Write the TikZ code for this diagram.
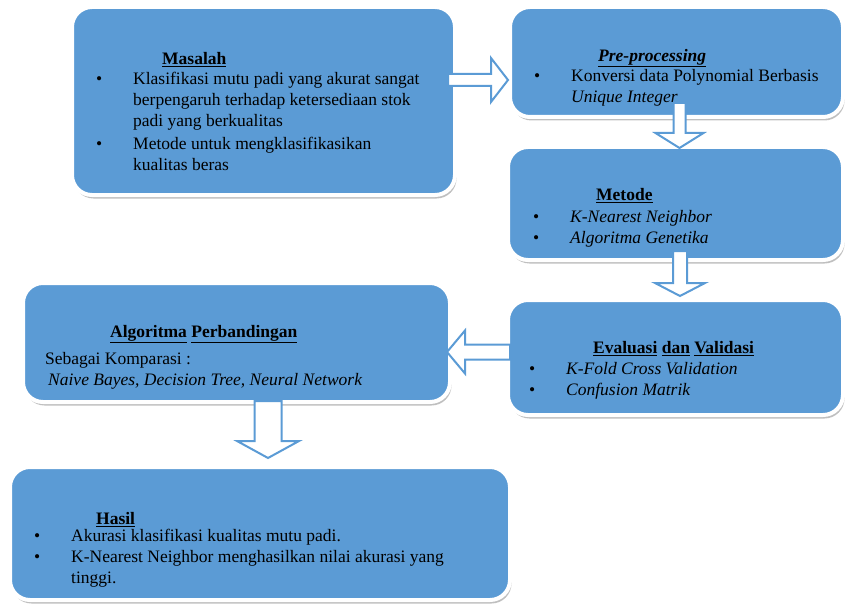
\documentclass[tikz,border=0pt]{standalone}
\usepackage{fontspec}
\setmainfont{Liberation Serif}
\usetikzlibrary{positioning,shadows,calc}
\definecolor{boxblue}{RGB}{91,155,213}
\tikzset{
  box/.style={draw=white, line width=4pt, fill=boxblue, rounded corners=20pt,
    drop shadow={shadow xshift=1.5pt, shadow yshift=-3.5pt, fill=black!50}},
  barrow/.style={draw=boxblue, fill=white, line width=2pt, line join=miter},
  txt/.style={anchor=north west, align=left, inner sep=0pt, font=\fontsize{17.5}{20.8}\selectfont},
}
\newcommand{\bul}{\makebox[37pt][l]{\textbullet}}
\newcommand{\ind}{\hspace*{37pt}}

\begin{document}
\begin{tikzpicture}[x=1pt, y=-1pt]
  \useasboundingbox (0,0) rectangle (846,607);
  % boxes
  \node[box, minimum width=383pt, minimum height=188pt] (m) at (263.5,101) {};
  \node[box, minimum width=333pt, minimum height=110pt] (p) at (676.5,62) {};
  \node[box, minimum width=335pt, minimum height=113pt] (me) at (675.5,203.5) {};
  \node[box, minimum width=335pt, minimum height=115pt] (e) at (675.5,357.5) {};
  \node[box, minimum width=427pt, minimum height=119pt] (a) at (236.5,342.5) {};
  \node[box, minimum width=500pt, minimum height=133pt] (h) at (260,533.5) {};

  % texts
  \node[txt] (m-title) at (162,52) {\underline{\textbf{Masalah}}};
  \node[txt] (m-list) at (96,72) {\bul Klasifikasi mutu padi yang akurat sangat\\
    \ind berpengaruh terhadap ketersediaan stok\\
    \ind padi yang berkualitas\\[3pt]
    \bul Metode untuk mengklasifikasikan\\
    \ind kualitas beras};

  \node[txt] (p-title) at (598,49) {\underline{\textbf{\textit{Pre-processing}}}};
  \node[txt] (p-list) at (534,69) {\bul Konversi data Polynomial Berbasis\\
    \ind\textit{Unique Integer}};

  \node[txt] (me-title) at (596,188) {\underline{\textbf{Metode}}};
  \node[txt] (me-list) at (533,210) {\bul\textit{K-Nearest Neighbor}\\
    \bul\textit{Algoritma Genetika}};

  \node[txt] (e-title) at (593,341) {\underline{\textbf{Evaluasi}} \underline{\textbf{dan}} \underline{\textbf{Validasi}}};
  \node[txt] (e-list) at (529,362) {\bul\textit{K-Fold Cross Validation}\\
    \bul\textit{Confusion Matrik}};

  \node[txt] (a-title) at (110,325) {\underline{\textbf{Algoritma}} \underline{\textbf{Perbandingan}}};
  \node[txt] (a-list) at (45,352) {Sebagai Komparasi :\\
    \hspace*{3pt}\textit{Naive Bayes, Decision Tree, Neural Network}};

  \node[txt] (h-title) at (96,512) {\underline{\textbf{Hasil}}};
  \node[txt] (h-list) at (34,529) {\bul Akurasi klasifikasi kualitas mutu padi.\\
    \bul K-Nearest Neighbor menghasilkan nilai akurasi yang\\
    \ind tinggi.};

  % block arrows
  \draw[barrow] ($(p.west)+(0,18)$) -- ++(-17,-22) -- ++(0,16) -- ++(-43,0)
    -- ++(0,12) -- ++(43,0) -- ++(0,16) -- cycle;
  \draw[barrow] ($(me.north)+(4,3)$) -- ++(-24,-15) -- ++(18,0) -- ++(0,-30)
    -- ++(12,0) -- ++(0,30) -- ++(18,0) -- cycle;
  \draw[barrow] ($(e.north)+(4.5,-2)$) -- ++(-25,-13) -- ++(18,0) -- ++(0,-32)
    -- ++(14,0) -- ++(0,32) -- ++(18,0) -- cycle;
  \draw[barrow] ($(a.east)+(-5,9.5)$) -- ++(18,-21.5) -- ++(0,14) -- ++(45,0)
    -- ++(0,15) -- ++(-45,0) -- ++(0,14) -- cycle;
  \draw[barrow] ($(h.north)+(8,-7)$) -- ++(-31,-17) -- ++(17.5,0) -- ++(0,-40)
    -- ++(27,0) -- ++(0,40) -- ++(17.5,0) -- cycle;
\end{tikzpicture}
\end{document}
